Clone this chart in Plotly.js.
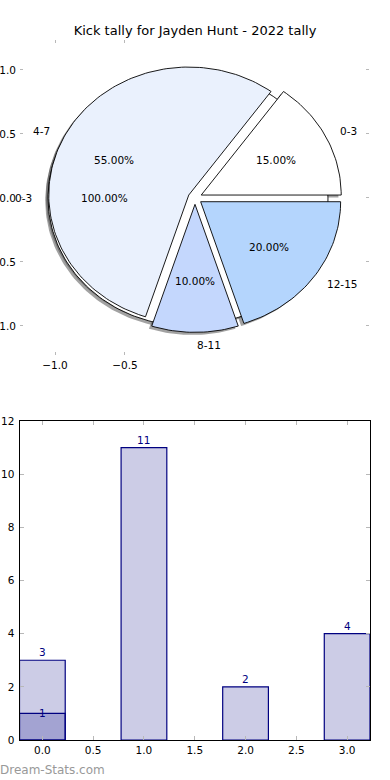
<!DOCTYPE html>
<html>
<head>
<meta charset="utf-8">
<script src="https://cdn.plot.ly/plotly-3.0.1.min.js"></script>
<style>
html,body{margin:0;padding:0;background:#fff;}
#chart{width:390px;height:780px;}
</style>
</head>
<body>
<div id="chart"></div>
<script>
// ---- data ----
const titleText = 'Kick tally for Jayden Hunt - 2022 tally';
const categories = ['0-3', '4-7', '8-11', '12-15'];
const tally = [3, 11, 2, 4];
const pieColors = ['#ffffff', '#eaf1fd', '#c4d7fd', '#b4d5fd'];
const categories2 = ['0-3'];
const tally2 = [1];
const barX = [0, 1, 2, 3];
const barX2 = [0];
const pieXTicks = [-1.0, -0.5];
const pieXTickText = ['\u22121.0', '\u22120.5'];
const pieYTicks = [-1.0, -0.5, 0.0, 0.5, 1.0];
const pieYTickText = ['\u22121.0', '\u22120.5', '0.0', '0.5', '1.0'];
const barXTicks = [0, 0.5, 1, 1.5, 2, 2.5, 3];
const barXTickText = ['0.0', '0.5', '1.0', '1.5', '2.0', '2.5', '3.0'];
const watermark = 'Dream-Stats.com';

// ---- helpers ----
const EXPLODE = 0.05, SH = -0.02;
const FONT = 'DejaVu Sans, sans-serif';
function slices(values) {
  const total = values.reduce((a, b) => a + b, 0);
  let acc = 0;
  return values.map(v => {
    const t1 = acc / total * 360;
    acc += v;
    const t2 = acc / total * 360;
    const mid = (t1 + t2) / 2 * Math.PI / 180;
    return {t1, t2, mid, pct: v / total * 100,
      cx: EXPLODE * Math.cos(mid), cy: EXPLODE * Math.sin(mid)};
  });
}
function wedgePath(s, dx, dy) {
  const xs = [], ys = [];
  const full = (s.t2 - s.t1) >= 359.999;
  if (!full) { xs.push(s.cx + dx); ys.push(s.cy + dy); }
  const n = Math.max(8, Math.ceil((s.t2 - s.t1) / 1.5));
  for (let i = 0; i <= n; i++) {
    const a = (s.t1 + (s.t2 - s.t1) * i / n) * Math.PI / 180;
    xs.push(s.cx + dx + Math.cos(a));
    ys.push(s.cy + dy + Math.sin(a));
  }
  xs.push(xs[0]); ys.push(ys[0]);
  return {xs, ys};
}

const s1 = slices(tally);
const s2 = slices(tally2);
const traces = [];
const annotations = [];

// shadows
[s2, s1].forEach(ss => {
  ss.forEach(s => {
    const p = wedgePath(s, SH, SH);
    traces.push({type: 'scatter', mode: 'lines', x: p.xs, y: p.ys, fill: 'toself',
      fillcolor: 'rgba(70,70,70,0.5)', line: {width: 0, color: 'rgba(0,0,0,0)'},
      hoverinfo: 'skip', showlegend: false, xaxis: 'x', yaxis: 'y'});
  });
});
// wedges
[[s2, ['#ffffff']], [s1, pieColors]].forEach(([ss, cols]) => {
  ss.forEach((s, i) => {
    const p = wedgePath(s, 0, 0);
    traces.push({type: 'scatter', mode: 'lines', x: p.xs, y: p.ys, fill: 'toself',
      fillcolor: cols[i], line: {width: 0.9, color: '#000'},
      hoverinfo: 'skip', showlegend: false, xaxis: 'x', yaxis: 'y'});
  });
});
// pie labels
[[s2, categories2], [s1, categories]].forEach(([ss, labs]) => {
  ss.forEach((s, i) => {
    const c = Math.cos(s.mid), sn = Math.sin(s.mid);
    const lx = s.cx + 1.1 * c, ly = s.cy + 1.1 * sn;
    const xa = Math.abs(c) < 1e-9 ? 'left' : (c < 0 ? 'right' : 'left');
    annotations.push({xref: 'x', yref: 'y', x: lx, y: ly, text: labs[i], showarrow: false,
      xanchor: xa, yanchor: 'middle', font: {family: FONT, size: 10.5, color: '#000'}});
    annotations.push({xref: 'x', yref: 'y', x: s.cx + 0.6 * c, y: s.cy + 0.6 * sn,
      text: s.pct.toFixed(2) + '%', showarrow: false, xanchor: 'center', yanchor: 'middle',
      font: {family: FONT, size: 10.5, color: '#000'}});
  });
});

// bars
traces.push({type: 'bar', x: barX, y: tally, width: 0.45, xaxis: 'x2', yaxis: 'y2',
  marker: {color: 'rgba(0,0,128,0.2)', line: {color: '#000080', width: 1.2}},
  hoverinfo: 'skip', showlegend: false});
traces.push({type: 'bar', x: barX2, y: tally2, width: 0.45, xaxis: 'x2', yaxis: 'y2',
  marker: {color: 'rgba(0,0,128,0.2)', line: {color: '#000080', width: 1.2}},
  hoverinfo: 'skip', showlegend: false});
barX.forEach((x, i) => {
  annotations.push({xref: 'x2', yref: 'y2', x: x, y: tally[i], text: String(tally[i]),
    showarrow: false, xanchor: 'center', yanchor: 'bottom', yshift: 0,
    font: {family: FONT, size: 10.5, color: '#000080'}});
});
barX2.forEach((x, i) => {
  annotations.push({xref: 'x2', yref: 'y2', x: x, y: tally2[i], text: String(tally2[i]),
    showarrow: false, xanchor: 'center', yanchor: 'middle', yshift: 0,
    font: {family: FONT, size: 10.5, color: '#000080'}});
});
annotations.push({xref: 'paper', yref: 'paper', x: 0, y: 1 - 770 / 780, text: watermark,
  showarrow: false, xanchor: 'left', yanchor: 'middle', xshift: -2,
  font: {family: FONT, size: 12, color: '#999999'}});

const tickFont = {family: FONT, size: 10.5, color: '#000'};
const layout = {
  width: 390, height: 780,
  margin: {l: 0, r: 0, t: 0, b: 0},
  paper_bgcolor: '#fff', plot_bgcolor: 'rgba(0,0,0,0)',
  showlegend: false,
  barmode: 'overlay',
  title: {text: titleText, x: 0.5, xanchor: 'center', y: 1 - 30 / 780, yanchor: 'middle',
    font: {family: FONT, size: 13, color: '#000'}},
  xaxis: {domain: [20 / 390, 369 / 390], range: [-1.25, 1.243], showgrid: false, zeroline: false,
    showline: false, ticks: 'inside', ticklen: 3, tickcolor: '#b8b8b8', mirror: 'ticks',
    tickmode: 'array', tickvals: pieXTicks, ticktext: pieXTickText, tickfont: tickFont,
    ticklabelstandoff: 2, fixedrange: true, anchor: 'y'},
  yaxis: {domain: [1 - 355 / 780, 1 - 40 / 780], range: [-1.227, 1.234], showgrid: false, zeroline: false,
    showline: false, ticks: 'inside', ticklen: 3, tickcolor: '#b8b8b8', mirror: 'ticks',
    tickmode: 'array', tickvals: pieYTicks, ticktext: pieYTickText, tickfont: tickFont,
    ticklabelstandoff: 3, fixedrange: true, anchor: 'x'},
  xaxis2: {domain: [19.5 / 390, 370 / 390], range: [-0.225, 3.225], showgrid: false, zeroline: false,
    showline: true, linecolor: '#000', linewidth: 1, mirror: 'ticks',
    ticks: 'inside', ticklen: 4, tickcolor: '#b8b8b8',
    tickmode: 'array', tickvals: barXTicks, ticktext: barXTickText, tickfont: tickFont,
    fixedrange: true, anchor: 'y2'},
  yaxis2: {domain: [1 - 740 / 780, 1 - 421 / 780], range: [0, 12], showgrid: false, zeroline: false,
    showline: true, linecolor: '#000', linewidth: 1, mirror: 'ticks',
    ticks: 'inside', ticklen: 4, tickcolor: '#b8b8b8', dtick: 2, tick0: 0,
    tickfont: tickFont, ticklabelstandoff: 2, fixedrange: true, anchor: 'x2'},
  annotations: annotations
};
Plotly.newPlot('chart', traces, layout, {displayModeBar: false, staticPlot: true});
</script>
</body>
</html>
